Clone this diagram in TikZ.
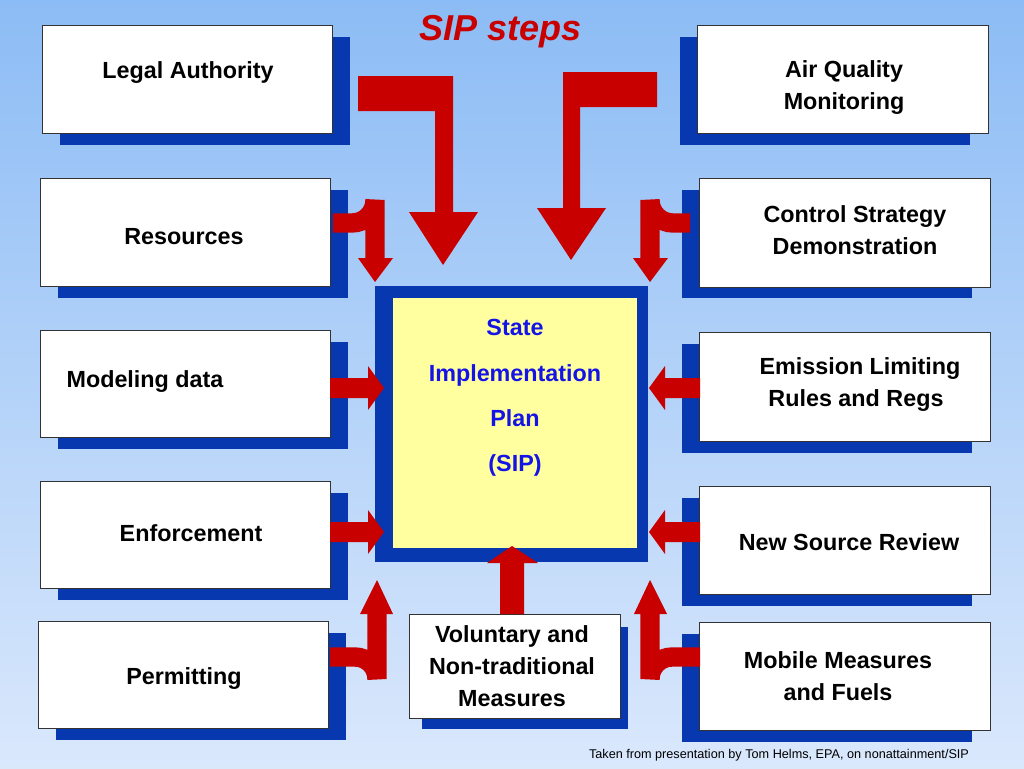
\documentclass[tikz,border=0pt]{standalone}
\usepackage{fontspec}
\setmainfont{Liberation Sans}
\definecolor{bshadow}{HTML}{0838B0}
\definecolor{rarr}{HTML}{C80000}
\definecolor{bgtop}{RGB}{140,188,245}
\definecolor{bgbot}{RGB}{218,232,252}
\definecolor{ylw}{RGB}{255,255,160}
\definecolor{siptxt}{RGB}{20,20,230}
\begin{document}
\begin{tikzpicture}[x=0.75pt,y=-0.75pt,
  wbox/.style={draw=black!80,line width=0.6pt,fill=white},
  shad/.style={fill=bshadow,draw=none},
  lbl/.style={font=\bfseries\fontsize{17.5}{21}\selectfont,align=center,text=black},
  red/.style={fill=rarr,draw=none},
  rline/.style={draw=rarr,line width=14.5pt}]
\shade[top color=bgtop,bottom color=bgbot] (0,0) rectangle (1024,768);
\useasboundingbox (0,0) rectangle (1024,768);
\node[font=\bfseries\itshape\fontsize{27}{30}\selectfont,text=rarr] (title) at (501,32) {SIP steps};
% shadows and boxes
\fill[shad] (60,37) rectangle (350,145);   \draw[wbox] (42,25) rectangle (332,133);
\fill[shad] (680,37) rectangle (970,145);  \draw[wbox] (697,25) rectangle (988,133);
\fill[shad] (58,190) rectangle (348,298);  \draw[wbox] (40,178) rectangle (330,286);
\fill[shad] (682,190) rectangle (972,298); \draw[wbox] (699,178) rectangle (990,287);
\fill[shad] (58,342) rectangle (348,449);  \draw[wbox] (40,330) rectangle (330,437);
\fill[shad] (682,344) rectangle (972,453); \draw[wbox] (699,332) rectangle (990,441);
\fill[shad] (58,493) rectangle (348,600);  \draw[wbox] (40,481) rectangle (330,588);
\fill[shad] (682,498) rectangle (972,606); \draw[wbox] (699,486) rectangle (990,594);
\fill[shad] (56,633) rectangle (346,740);  \draw[wbox] (38,621) rectangle (328,728);
\fill[shad] (682,634) rectangle (972,742); \draw[wbox] (699,622) rectangle (990,730);
\fill[shad] (422,627) rectangle (628,729); \draw[wbox] (409,614) rectangle (620,718);
% center
\fill[bshadow] (375,286) rectangle (648,562);
\fill[ylw] (393,298) rectangle (637,548);
% labels
\node[lbl] (la) at (188,73) {Legal Authority};
\node[lbl] (aq) at (844,88) {Air Quality\\[3pt]Monitoring};
\node[lbl] (rs) at (184,237) {Resources};
\node[lbl] (cs) at (855,230) {Control Strategy\\[3pt]Demonstration};
\node[lbl] (md) at (145,382) {Modeling data};
\node[lbl] (el) at (856,385) {\hspace*{6pt}Emission Limiting\\[3pt]Rules and Regs};
\node[lbl] (en) at (191,533) {Enforcement};
\node[lbl] (ns) at (849,542) {New Source Review};
\node[lbl] (pm) at (184,679) {Permitting};
\node[lbl] (mb) at (838,676) {Mobile Measures\\[3pt]and Fuels};
\node[lbl] (vl) at (512,666) {Voluntary and\\[3pt]Non-traditional\\[3pt]Measures};
\node[lbl,text=siptxt] (sip) at (515,398) {State\\[13pt]Implementation\\[13pt]Plan\\[13pt](SIP)};
\node[font=\fontsize{9.5}{11}\selectfont] (cred) at (779,755) {Taken from presentation by Tom Helms, EPA, on nonattainment/SIP};
% big top arrows
\fill[red] (358,76) -- (453,76) -- (453,212) -- (478,212) -- (443,265) -- (409,212) -- (435,212) -- (435,111) -- (358,111) -- cycle;
\fill[red] (657,72) -- (563,72) -- (563,208) -- (537,208) -- (571,260) -- (606,208) -- (580,208) -- (580,107) -- (657,107) -- cycle;
% curved arrows top
\draw[rline] (333,223) -- (352,223) arc[start angle=90,end angle=0,radius=23] -- (375,262);
\fill[red] (358,258) -- (393,258) -- (375,282) -- cycle;
\draw[rline] (690,223) -- (673,223) arc[start angle=90,end angle=180,radius=23] -- (650,262);
\fill[red] (633,258) -- (668,258) -- (650,282) -- cycle;
% curved arrows bottom
\draw[rline] (330,657) -- (355,657) arc[start angle=-90,end angle=0,radius=22] -- (377,610);
\fill[red] (360,614) -- (393,614) -- (377,580) -- cycle;
\draw[rline] (700,657) -- (672,657) arc[start angle=-90,end angle=-180,radius=22] -- (650,610);
\fill[red] (634,614) -- (667,614) -- (650,580) -- cycle;
% side arrows
\fill[red] (330,378) -- (368,378) -- (368,366) -- (384,388) -- (368,410) -- (368,398) -- (330,398) -- cycle;
\fill[red] (700,378) -- (665,378) -- (665,366) -- (649,388) -- (665,410) -- (665,398) -- (700,398) -- cycle;
\fill[red] (330,522) -- (368,522) -- (368,510) -- (384,532) -- (368,554) -- (368,542) -- (330,542) -- cycle;
\fill[red] (700,522) -- (665,522) -- (665,510) -- (649,532) -- (665,554) -- (665,542) -- (700,542) -- cycle;
% up arrow
\fill[red] (500,614) -- (500,563) -- (487,563) -- (512,546) -- (538,563) -- (524,563) -- (524,614) -- cycle;
\end{tikzpicture}
\end{document}
